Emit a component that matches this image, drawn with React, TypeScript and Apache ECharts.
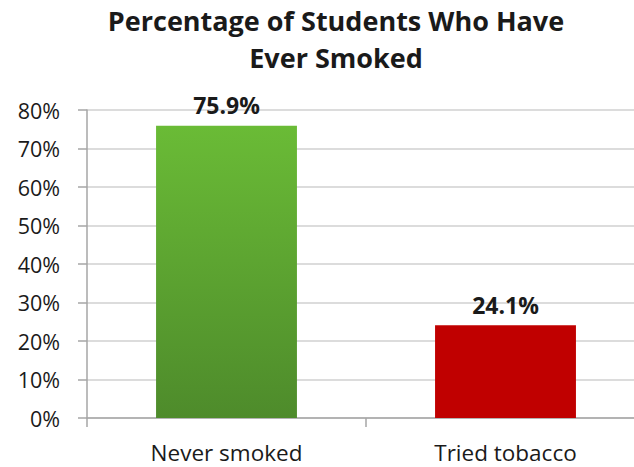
import React, { useEffect, useRef } from "react";
import * as echarts from "echarts";

const categories = ["Never smoked", "Tried tobacco"];
const values = [75.9, 24.1];
const yTicks = [0, 10, 20, 30, 40, 50, 60, 70, 80];
const titleLines = ["Percentage of Students Who Have", "Ever Smoked"];

export default function App() {
  const ref = useRef<HTMLDivElement>(null);
  useEffect(() => {
    const chart = echarts.init(ref.current!, null, { renderer: "svg" });
    const font = "'Open Sans', 'Noto Sans', sans-serif";
    chart.setOption({
      animation: false,
      backgroundColor: "#ffffff",
      title: {
        text: titleLines.join("\n"),
        left: 331,
        textAlign: "center",
        top: -3,
        textStyle: {
          fontFamily: font,
          fontSize: 27,
          fontWeight: "bold",
          color: "#1a1a1a",
          lineHeight: 37,
        },
      },
      grid: { left: 87, right: 0, top: 110, bottom: 49, containLabel: false },
      xAxis: {
        type: "category",
        data: categories,
        axisLine: { lineStyle: { color: "#a6a6a6", width: 1.5 } },
        axisTick: { show: true, length: 9, lineStyle: { color: "#a6a6a6", width: 1.5 } },
        axisLabel: { margin: 23, fontFamily: font, fontSize: 22.5, color: "#1a1a1a" },
      },
      yAxis: {
        type: "value",
        min: yTicks[0],
        max: yTicks[yTicks.length - 1],
        interval: 10,
        axisLine: { show: true, lineStyle: { color: "#a6a6a6", width: 1.5 } },
        axisTick: { show: true, length: 9, lineStyle: { color: "#a6a6a6", width: 1.5 } },
        splitLine: { lineStyle: { color: "#d0d0d0", width: 1.5 } },
        axisLabel: {
          margin: 27,
          fontFamily: font,
          fontSize: 21.5,
          color: "#1a1a1a",
          formatter: (v: number) => `${v}%`,
        },
      },
      series: [
        {
          type: "bar",
          barWidth: "50.5%",
          data: values.map((v, i) => ({
            value: v,
            itemStyle:
              i === 0
                ? {
                    color: new echarts.graphic.LinearGradient(0, 0, 0, 1, [
                      { offset: 0, color: "#6abb36" },
                      { offset: 1, color: "#4e8b2b" },
                    ]),
                  }
                : { color: "#c00000" },
          })),
          label: {
            show: true,
            position: "top",
            distance: 9,
            fontFamily: font,
            fontSize: 23,
            fontWeight: "bold",
            color: "#1a1a1a",
            formatter: (p: any) => `${p.value.toFixed(1)}%`,
          },
        },
      ],
    });
    return () => chart.dispose();
  }, []);
  return (
    <div style={{ width: 634, height: 467, position: "absolute", left: 0, top: 0, overflow: "hidden" }}>
      <div ref={ref} style={{ width: 645, height: 467, position: "absolute", left: 0, top: 0 }} />
    </div>
  );
}
